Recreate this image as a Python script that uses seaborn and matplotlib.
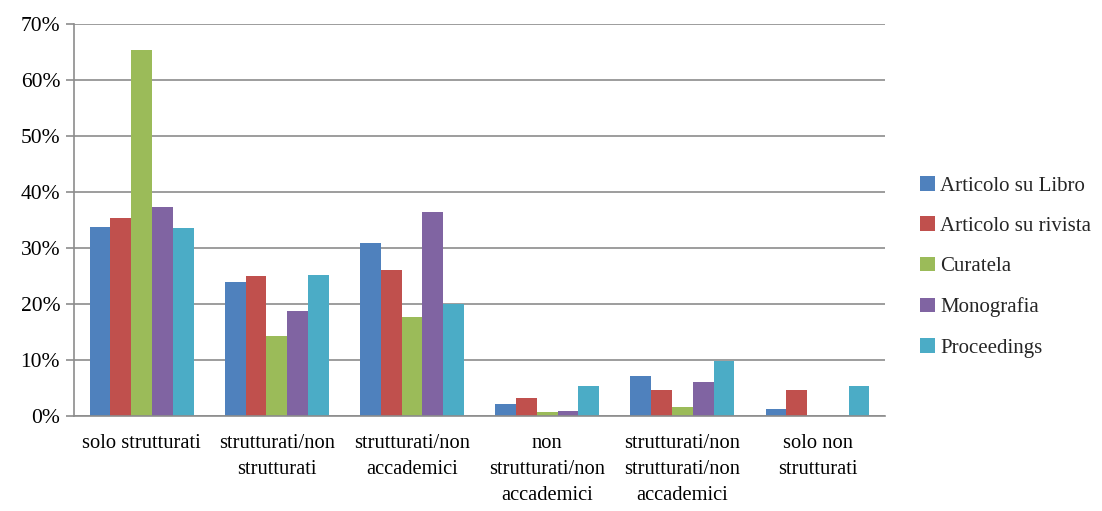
import matplotlib
matplotlib.use("Agg")
import matplotlib.pyplot as plt
from matplotlib.patches import Patch
from matplotlib.ticker import FixedLocator, PercentFormatter
import seaborn as sns
import pandas as pd

# Author categories (wrapped as in the axis labels)
categories = [
    "solo strutturati",
    "strutturati/non\nstrutturati",
    "strutturati/non\naccademici",
    "non\nstrutturati/non\naccademici",
    "strutturati/non\nstrutturati/non\naccademici",
    "solo non\nstrutturati",
]

# Share of each publication type per category (percent)
articolo_libro = [33.8, 24.0, 30.9, 2.1, 7.2, 1.3]
articolo_rivista = [35.3, 25.0, 26.1, 3.2, 4.65, 4.65]
curatela = [65.3, 14.3, 17.7, 0.7, 1.55, 0.0]
monografia = [37.4, 18.7, 36.4, 0.9, 6.1, 0.0]
proceedings = [33.6, 25.2, 20.0, 5.3, 9.8, 5.3]

series_names = ["Articolo su Libro", "Articolo su rivista", "Curatela",
                "Monografia", "Proceedings"]
series_values = [articolo_libro, articolo_rivista, curatela, monografia, proceedings]
colors = ["#4F81BD", "#C0504D", "#9BBB59", "#8064A2", "#4BACC6"]

rows = []
for name, vals in zip(series_names, series_values):
    for cat, v in zip(categories, vals):
        rows.append({"categoria": cat, "tipo": name, "valore": v})
df = pd.DataFrame(rows)

sns.set_theme(style="white")
plt.rcParams["font.family"] = ["Liberation Serif", "DejaVu Serif"]

fig = plt.figure(figsize=(11.02, 5.11), dpi=100)
ax = fig.add_axes([0.0672, 0.186, 0.736, 0.767])

sns.barplot(data=df, x="categoria", y="valore", hue="tipo",
            order=categories, hue_order=series_names,
            palette=colors, width=0.768, gap=0, dodge=True,
            saturation=1, linewidth=0, errorbar=None, ax=ax, legend=False)

grid_color = "#8C8C8C"
ax.set_ylim(0, 70)
ax.set_xlim(-0.5, len(categories) - 0.5)
ax.yaxis.set_major_locator(FixedLocator(range(0, 71, 10)))
ax.yaxis.set_major_formatter(PercentFormatter(decimals=0))
ax.grid(axis="y", color=grid_color, linewidth=1.2)
ax.set_axisbelow(True)

for side in ["top", "right"]:
    ax.spines[side].set_visible(False)
for side in ["left", "bottom"]:
    ax.spines[side].set_color(grid_color)
    ax.spines[side].set_linewidth(1.2)

ax.set_xlabel("")
ax.set_ylabel("")

# Category labels centred, tick marks on the group boundaries
ax.tick_params(axis="x", which="major", length=0, pad=13, labelsize=14.8,
               colors="black")
ax.xaxis.set_minor_locator(FixedLocator([i - 0.5 for i in range(len(categories) + 1)]))
ax.tick_params(axis="x", which="minor", length=6, width=1.2, color=grid_color,
               direction="out")
for lbl in ax.get_xticklabels():
    lbl.set_linespacing(1.5)
    lbl.set_verticalalignment("top")

ax.tick_params(axis="y", which="major", length=6, width=1.2, color=grid_color,
               direction="out", labelsize=15.5, pad=4, left=True, labelcolor="black")

handles = [Patch(facecolor=c, edgecolor="none", label=n)
           for c, n in zip(colors, series_names)]
fig.legend(handles=handles, loc="center left", bbox_to_anchor=(0.818, 0.478),
           frameon=False, fontsize=15, handlelength=0.7, handleheight=0.7,
           handletextpad=0.25, labelspacing=1.0)

fig.savefig("out.png", dpi=100, facecolor="white")
